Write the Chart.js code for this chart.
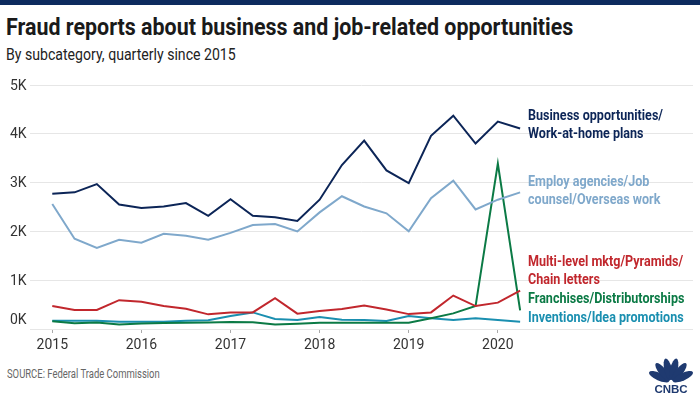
<!DOCTYPE html>
<html>
<head>
<meta charset="utf-8">
<script src="https://cdn.jsdelivr.net/npm/chart.js@4.4.1/dist/chart.umd.min.js"></script>
<style>
  html, body { margin: 0; padding: 0; background: #fff; }
  #page { position: relative; width: 700px; height: 400px; overflow: hidden; font-family: Roboto, sans-serif; }
  #topbar { position: absolute; left: 0; top: 0; width: 700px; height: 5px; background: #0d2b5e; }
  .fit { position: absolute; white-space: nowrap; transform-origin: 0 0; }
  #title { left: 6px; top: 14px; font-size: 23px; font-weight: bold; color: #1a1a1a; }
  #subtitle { left: 6px; top: 45px; font-size: 16px; color: #222; }
  #source { left: 7px; top: 367px; font-size: 12px; color: #666; }
  #wrap { position: absolute; left: 0; top: 70px; width: 700px; height: 290px; }
  #logo { position: absolute; left: 647px; top: 352px; }
</style>
</head>
<body>
<div id="page">
  <div id="topbar"></div>
  <div id="title" class="fit" data-w="567">Fraud reports about business and job-related opportunities</div>
  <div id="subtitle" class="fit" data-w="230">By subcategory, quarterly since 2015</div>
  <div id="wrap"><canvas id="chart"></canvas></div>
  <div id="source" class="fit" data-w="153">SOURCE: Federal Trade Commission</div>
  <svg id="logo" width="48" height="44" viewBox="0 0 48 44">
    <g fill="#1f3a70" transform="translate(24,30)">
      <ellipse cx="0" cy="-13" rx="3.8" ry="11" transform="rotate(-66)"/>
      <ellipse cx="0" cy="-13" rx="3.8" ry="11" transform="rotate(-39)"/>
      <ellipse cx="0" cy="-13" rx="3.8" ry="11" transform="rotate(-13)"/>
      <ellipse cx="0" cy="-13" rx="3.8" ry="11" transform="rotate(13)"/>
      <ellipse cx="0" cy="-13" rx="3.8" ry="11" transform="rotate(39)"/>
      <ellipse cx="0" cy="-13" rx="3.8" ry="11" transform="rotate(66)"/>
    </g>
    <text x="24" y="41" text-anchor="middle" font-family="Liberation Sans, Arial, sans-serif" font-weight="bold" font-size="11.5" fill="#1f3a70">CNBC</text>
  </svg>
</div>
<script>
// squeeze the header/footer text to the widths of the original (narrow face)
document.querySelectorAll('.fit').forEach(el => {
  const w = Number(el.dataset.w);
  el.style.transform = 'scaleX(' + (w / el.offsetWidth) + ')';
});

// quarters, 2015 Q1 .. 2020 Q2
const quarters = [
  '2015 Q1', '2015 Q2', '2015 Q3', '2015 Q4',
  '2016 Q1', '2016 Q2', '2016 Q3', '2016 Q4',
  '2017 Q1', '2017 Q2', '2017 Q3', '2017 Q4',
  '2018 Q1', '2018 Q2', '2018 Q3', '2018 Q4',
  '2019 Q1', '2019 Q2', '2019 Q3', '2019 Q4',
  '2020 Q1', '2020 Q2'
];
const yearTicks = [2015, 2016, 2017, 2018, 2019, 2020];
const yTicks = [0, 1000, 2000, 3000, 4000, 5000];

const businessOpps = [2770, 2800, 2970, 2550, 2480, 2510, 2580, 2320, 2660, 2320, 2290, 2215,
  2650, 3360, 3860, 3250, 2990, 3960, 4370, 3800, 4250, 4110];
const employAgencies = [2560, 1850, 1660, 1830, 1770, 1950, 1910, 1830, 1970, 2130, 2150, 2000,
  2390, 2720, 2510, 2370, 2000, 2680, 3040, 2450, 2650, 2800];
const multiLevel = [470, 390, 390, 590, 560, 470, 415, 300, 340, 340, 630, 315,
  370, 410, 480, 400, 305, 340, 685, 470, 540, 785];
const franchises = [160, 120, 135, 90, 115, 125, 130, 135, 145, 140, 90, 110,
  130, 130, 130, 130, 130, 220, 320, 470, 3390, 380];
const inventions = [170, 170, 170, 150, 150, 150, 170, 180, 265, 340, 205, 185,
  245, 190, 185, 165, 265, 220, 185, 220, 185, 150];

const colors = {
  business: '#0c2557',
  employ: '#7fa8cb',
  multi: '#c1272d',
  franchise: '#0b7a45',
  invention: '#1a8fb0'
};

// quarter label -> fractional year on the linear x scale
function qx(label) {
  const parts = label.split(' Q');
  return Number(parts[0]) + (Number(parts[1]) - 1) / 4;
}

function series(values) {
  return values.map((v, i) => ({ x: qx(quarters[i]), y: v }));
}

// y labels drawn by hand: the 0K label sits above its gridline, the others on it
const yLabels = {
  id: 'yLabels',
  afterDraw(chart, args, options) {
    const { ctx } = chart;
    const y = chart.scales.y;
    ctx.save();
    ctx.font = '14px Roboto, sans-serif';
    ctx.fillStyle = '#333';
    ctx.textAlign = 'left';
    yTicks.forEach(v => {
      const py = y.getPixelForValue(v);
      ctx.textBaseline = v === 0 ? 'bottom' : 'middle';
      ctx.fillText((v / 1000) + 'K', options.x, v === 0 ? py - 2 : py + 1);
    });
    ctx.restore();
  }
};

const seriesLabels = {
  id: 'seriesLabels',
  afterDatasetsDraw(chart, args, options) {
    const { ctx } = chart;
    ctx.save();
    ctx.font = 'bold 14px Roboto, sans-serif';
    ctx.textAlign = 'left';
    ctx.textBaseline = 'middle';
    // narrow the face so "Business opportunities/" is as wide as in the original
    const sx = options.refWidth / ctx.measureText(options.items[0].lines[0]).width;
    ctx.translate(options.x, 0);
    ctx.scale(sx, 1);
    options.items.forEach(item => {
      ctx.fillStyle = item.color;
      item.lines.forEach((line, i) => {
        ctx.fillText(line, 0, item.y + i * 18);
      });
    });
    ctx.restore();
  }
};

const config = {
  type: 'line',
  data: {
    datasets: [
      { label: 'Business opportunities/Work-at-home plans', data: series(businessOpps), borderColor: colors.business },
      { label: 'Employ agencies/Job counsel/Overseas work', data: series(employAgencies), borderColor: colors.employ },
      { label: 'Multi-level mktg/Pyramids/Chain letters', data: series(multiLevel), borderColor: colors.multi },
      { label: 'Franchises/Distributorships', data: series(franchises), borderColor: colors.franchise },
      { label: 'Inventions/Idea promotions', data: series(inventions), borderColor: colors.invention }
    ]
  },
  options: {
    responsive: true,
    maintainAspectRatio: false,
    animation: false,
    elements: {
      line: { borderWidth: 2, tension: 0 },
      point: { radius: 0 }
    },
    layout: { padding: { top: 15, right: 7, left: 10, bottom: 0 } },
    scales: {
      x: {
        type: 'linear',
        min: 2014.75,
        max: 2022.19,
        afterBuildTicks: (scale) => { scale.ticks = yearTicks.map(v => ({ value: v })); },
        afterFit: (scale) => { scale.height = 31; },
        grid: { drawOnChartArea: false, drawTicks: true, tickLength: 4, color: '#aaa' },
        border: { display: false },
        ticks: {
          callback: (v) => String(v),
          color: '#333',
          font: { family: 'Roboto, sans-serif', size: 14 },
          maxRotation: 0,
          padding: 4
        }
      },
      y: {
        min: 0,
        max: 5000,
        afterBuildTicks: (scale) => { scale.ticks = yTicks.map(v => ({ value: v })); },
        afterFit: (scale) => { scale.width = 20; },
        grid: { color: '#e6e6e6', drawTicks: false },
        border: { display: false },
        ticks: { display: false }
      }
    },
    plugins: {
      legend: { display: false },
      title: { display: false },
      tooltip: { enabled: false },
      yLabels: { x: 10 },
      seriesLabels: {
        x: 528,
        refWidth: 135,
        items: [
          { lines: ['Business opportunities/', 'Work-at-home plans'], color: colors.business, y: 46 },
          { lines: ['Employ agencies/Job', 'counsel/Overseas work'], color: colors.employ, y: 112 },
          { lines: ['Multi-level mktg/Pyramids/', 'Chain letters'], color: colors.multi, y: 192 },
          { lines: ['Franchises/Distributorships'], color: colors.franchise, y: 229 },
          { lines: ['Inventions/Idea promotions'], color: colors.invention, y: 248 }
        ]
      }
    }
  },
  plugins: [yLabels, seriesLabels]
};

new Chart(document.getElementById('chart'), config);
</script>
</body>
</html>
